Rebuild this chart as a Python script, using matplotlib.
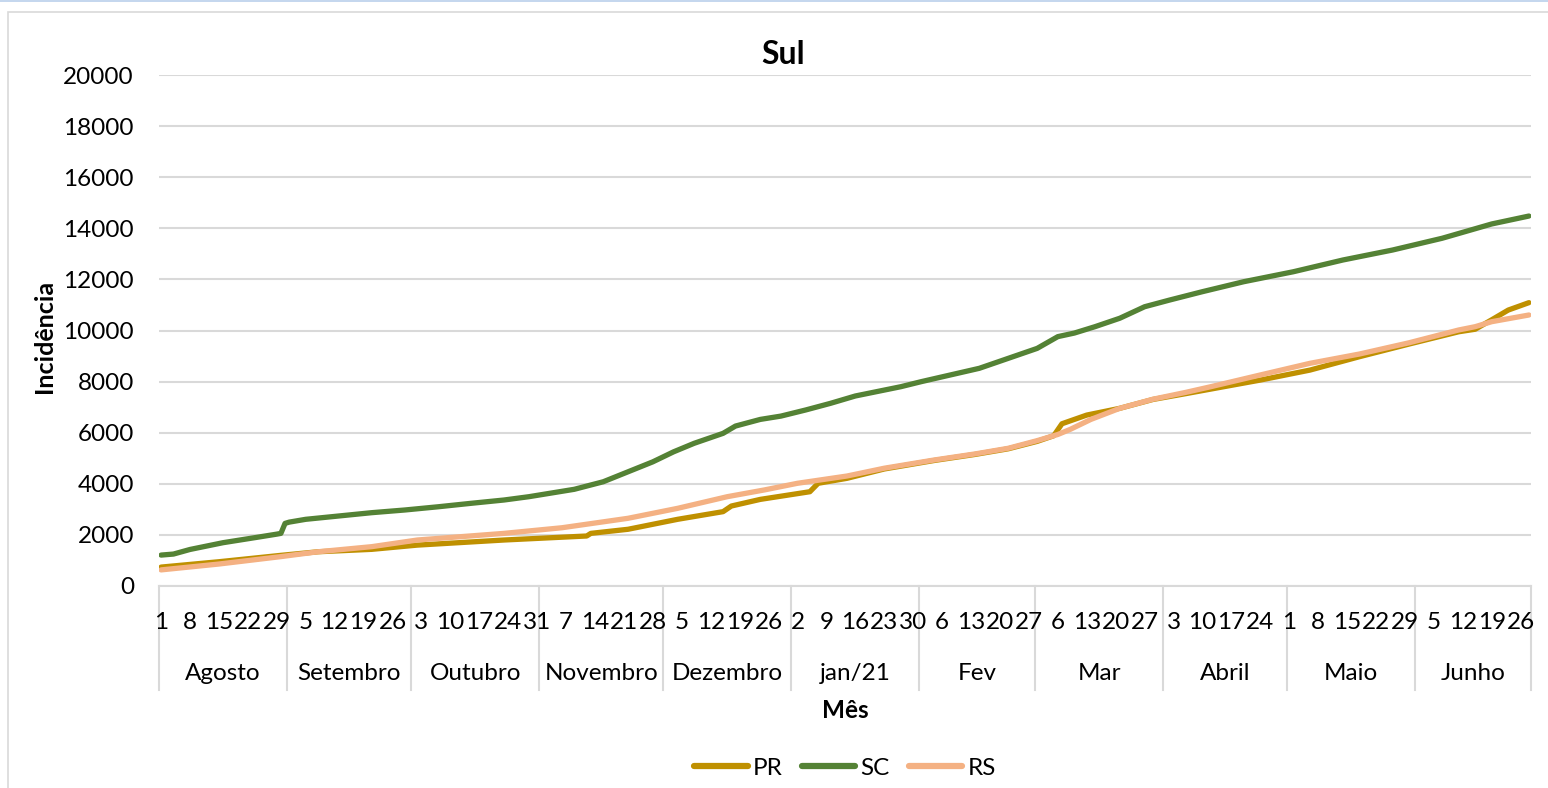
import matplotlib
matplotlib.use("Agg")
import matplotlib.pyplot as plt
from matplotlib.lines import Line2D
from matplotlib.patches import Rectangle
import matplotlib.transforms as mtransforms

plt.rcParams['font.family'] = ['Lato', 'DejaVu Sans']

# Months on the category axis and their number of days (Aug/2020 – Jun/2021)
months = ["Agosto", "Setembro", "Outubro", "Novembro", "Dezembro", "jan/21",
          "Fev", "Mar", "Abril", "Maio", "Junho"]
month_days = [31, 30, 31, 30, 31, 31, 28, 31, 30, 31, 28]

# Day-of-month labels shown every 7th day
day_labels = [1, 8, 15, 22, 29, 5, 12, 19, 26, 3, 10, 17, 24, 31, 7, 14, 21, 28,
              5, 12, 19, 26, 2, 9, 16, 23, 30, 6, 13, 20, 27, 6, 13, 20, 27,
              3, 10, 17, 24, 1, 8, 15, 22, 29, 5, 12, 19, 26]

# Cumulative incidence per state (day index from 1 Aug 2020, value)
pr_days = [0, 14, 29, 38, 51, 62, 83, 103, 104, 113, 125, 136, 138, 145, 157, 159,
           166, 175, 187, 197, 205, 212, 216, 218, 224, 232, 240, 248, 266, 278,
           290, 302, 314, 318, 322, 326, 331]
pr_vals = [740, 950, 1200, 1340, 1435, 1600, 1800, 1957, 2060, 2220, 2610, 2910,
           3130, 3390, 3690, 4020, 4215, 4580, 4910, 5150, 5370, 5660, 5880, 6350,
           6690, 6955, 7300, 7530, 8060, 8450, 8975, 9470, 9950, 10050, 10420,
           10800, 11090]

sc_days = [0, 3, 7, 15, 23, 28, 29, 30, 31, 35, 43, 51, 59, 67, 75, 83, 89, 100,
           107, 113, 119, 124, 129, 136, 139, 145, 150, 156, 162, 168, 179, 184,
           198, 205, 212, 217, 221, 226, 232, 238, 244, 252, 262, 274, 286, 298,
           310, 322, 331]
sc_vals = [1210, 1250, 1430, 1695, 1900, 2030, 2060, 2450, 2500, 2610, 2740, 2870,
           2975, 3100, 3236, 3366, 3495, 3785, 4080, 4470, 4860, 5250, 5585, 5975,
           6260, 6520, 6650, 6890, 7150, 7437, 7800, 8000, 8520, 8910, 9300, 9760,
           9900, 10150, 10480, 10930, 11190, 11520, 11910, 12300, 12760, 13150,
           13610, 14170, 14480]

rs_days = [0, 14, 29, 38, 51, 62, 83, 97, 113, 125, 137, 146, 154, 166, 175, 187,
           197, 205, 212, 217, 220, 225, 232, 240, 248, 254, 266, 278, 290, 302,
           314, 318, 322, 331]
rs_vals = [630, 860, 1150, 1340, 1540, 1800, 2060, 2280, 2650, 3040, 3495, 3760,
           4020, 4305, 4610, 4930, 5170, 5390, 5690, 5930, 6130, 6520, 6955, 7310,
           7580, 7800, 8260, 8715, 9080, 9520, 10020, 10150, 10345, 10607]

series = [("PR", pr_days, pr_vals, "#BF9000"),
          ("SC", sc_days, sc_vals, "#548235"),
          ("RS", rs_days, rs_vals, "#F4B183")]

W, H = 1548, 788
fig = plt.figure(figsize=(W / 100, H / 100), dpi=100)


def fx(px):
    return px / W


def fy(py):
    return 1 - py / H


# chart frame
fig.patches.append(Rectangle((fx(8), fy(H + 20)), 1.2, fy(12) - fy(H + 20),
                             transform=fig.transFigure, fill=False,
                             edgecolor="#d9d9d9", linewidth=1.2))
fig.patches.append(Rectangle((0, fy(2)), 1, fy(0) - fy(2), transform=fig.transFigure,
                             facecolor="#c5d7ee", edgecolor="none"))

ax_l, ax_r, ax_t, ax_b = 159, 1531, 75, 586
ax = fig.add_axes([fx(ax_l), fy(ax_b), fx(ax_r - ax_l), fy(ax_t) - fy(ax_b)])

n_days = sum(month_days)
for name, d, v, c in series:
    ax.plot([x + 0.5 for x in d], v, color=c, linewidth=3.8,
            solid_capstyle="round", solid_joinstyle="round")

ax.set_xlim(0, n_days)
ax.set_ylim(0, 20000)
ax.set_yticks(range(0, 20001, 2000))
ax.tick_params(axis="y", length=0, labelsize=17.5, pad=18, colors="#000000")
ax.yaxis.grid(True, color="#d9d9d9", linewidth=1.5)
ax.set_axisbelow(True)
for s in ["top", "right", "left"]:
    ax.spines[s].set_visible(False)
ax.spines["bottom"].set_color("#d9d9d9")
ax.spines["bottom"].set_linewidth(1.5)

ax.set_xticks([7 * i + 0.5 for i in range(len(day_labels))])
ax.set_xticklabels([str(v) for v in day_labels])
ax.tick_params(axis="x", length=0, labelsize=17.5, pad=19)

# month group labels and separators
trans = mtransforms.blended_transform_factory(ax.transData, ax.transAxes)
sep_bottom = -(690 - ax_b) / (ax_b - ax_t)
month_y = -(673 - ax_b) / (ax_b - ax_t)
start = 0
for m, nd in zip(months, month_days):
    ax.add_line(Line2D([start, start], [0, sep_bottom], transform=trans,
                       color="#d9d9d9", linewidth=1.5, clip_on=False, zorder=0))
    ax.text(start + nd / 2, month_y, m, transform=trans, ha="center", va="center",
            fontsize=17.5)
    start += nd
ax.add_line(Line2D([start, start], [0, sep_bottom], transform=trans,
                   color="#d9d9d9", linewidth=1.5, clip_on=False, zorder=0))

fig.text(fx(783), fy(54), "Sul", ha="center", va="center", fontsize=23,
         fontweight="bold")
fig.text(fx(44), fy(336), "Incidência", ha="center", va="center", rotation=90,
         fontsize=18, fontweight="bold")
fig.text(fx(845), fy(711), "Mês", ha="center", va="center", fontsize=17.5,
         fontweight="bold")

handles = [Line2D([], [], color=c, linewidth=4.5, solid_capstyle="round")
           for _, _, _, c in series]
fig.legend(handles, [s[0] for s in series], loc="center",
           bbox_to_anchor=(fx(845), fy(768)), ncol=3, frameon=False,
           fontsize=17.5, handlelength=2.2, handletextpad=0.2, columnspacing=0.8)

fig.savefig("out.png", dpi=100)
